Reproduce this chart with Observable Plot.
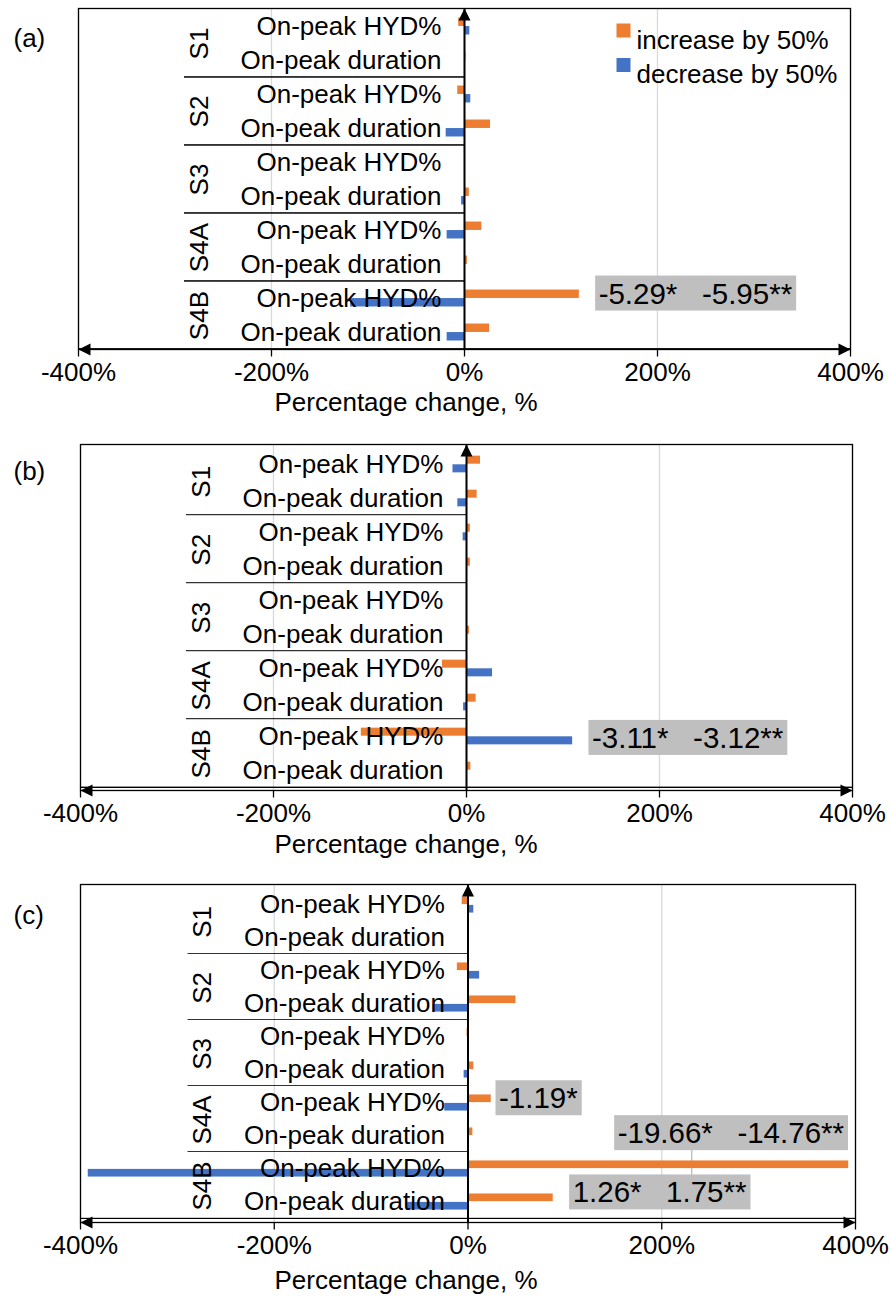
<!DOCTYPE html>
<html><head><meta charset="utf-8">
<script src="https://cdn.jsdelivr.net/npm/d3@7"></script>
<script src="https://cdn.jsdelivr.net/npm/@observablehq/plot@0.6"></script>
<style>
body{margin:0;background:#fff}
#chart{position:relative;width:891px;height:1303px;background:#fff}
#chart svg{position:absolute;left:0}
</style>
</head><body><div id="chart"></div>
<script>
// ---------- data ----------
const scenarios = ["S1", "S2", "S3", "S4A", "S4B"];
const metrics = ["On-peak HYD%", "On-peak duration"];
const seriesNames = ["increase by 50%", "decrease by 50%"];
const seriesColors = ["#ED7D31", "#4472C4"];
const tickValues = [-400, -200, 0, 200, 400];
const panelLabels = ["(a)", "(b)", "(c)"];
const axisTitle = "Percentage change, %";
// values (%), row order: S1 HYD, S1 dur, S2 HYD, S2 dur, S3 HYD, S3 dur, S4A HYD, S4A dur, S4B HYD, S4B dur
const increaseA = [-6, 1.5, -7, 27, 0, 5, 18, 3, 119, 26];
const decreaseA = [5.5, 0.5, 6.5, -19, 0, -3, -18, 1, -118, -18];
const increaseB = [14.5, 11, 4, 4, 0, 3, -25, 10, -109, 4.5];
const decreaseB = [-14, -9, -3.5, 0, 0, 0, 27, -3, 110, 0];
const increaseC = [-6, 1.5, -11, 49.5, -1, 6, 24, 5, 393, 88];
const decreaseC = [6, 0, 12, -36, 0, -4, -24, 1, -392, -63];
const sp = "\u00a0\u00a0\u00a0";
const notesA = [{scenario: "S4B", metric: "On-peak HYD%", label: "-5.29*" + sp + "-5.95**", x: 139}];
const notesB = [{scenario: "S4B", metric: "On-peak HYD%", label: "-3.11*" + sp + "-3.12**", x: 130}];
const notesC = [
  {scenario: "S4A", metric: "On-peak HYD%", label: "-1.19*", x: 32},
  {scenario: "S4A", metric: "On-peak duration", label: "-19.66*" + sp + "-14.76**", x: 154.5},
  {scenario: "S4B", metric: "On-peak duration", label: "1.26*" + sp + "1.75**", x: 108}
];
const leadersC = [{x: 231, from: "S4A|On-peak duration", to: "S4B|On-peak HYD%"}];

// ---------- layout ----------
const layouts = [
  {top: 0, height: 440, ml: 78, mr: 41, mt: 8, mb: 91, labelY: 28, titleDy: 61, noteDy: [-4.4]},
  {top: 436, height: 440, ml: 80, mr: 39, mt: 8, mb: 86, labelY: 25, titleDy: 62, noteDy: [2]},
  {top: 876, height: 427, ml: 80, mr: 36, mt: 8, mb: 81, labelY: 29, titleDy: 66, noteDy: [-4.2, -2.3, -9]}
];
const panels = [
  {inc: increaseA, dec: decreaseA, notes: notesA, leaders: [], legend: true},
  {inc: increaseB, dec: decreaseB, notes: notesB, leaders: [], legend: false},
  {inc: increaseC, dec: decreaseC, notes: notesC, leaders: leadersC, legend: false}
];

const rows = scenarios.flatMap(s => metrics.map(m => ({key: s + "|" + m, scenario: s, metric: m})));
const keys = rows.map(r => r.key);
const groupRows = rows.filter(r => r.metric === metrics[0]);

// custom symbols
const triUp = {draw(c) { c.moveTo(0, 0); c.lineTo(6, 12); c.lineTo(-6, 12); c.closePath(); }};
const triLeft = {draw(c) { c.moveTo(0, 0); c.lineTo(12, -6); c.lineTo(12, 6); c.closePath(); }};
const triRight = {draw(c) { c.moveTo(0, 0); c.lineTo(-12, -6); c.lineTo(-12, 6); c.closePath(); }};
const tickSym = {draw(c) { c.moveTo(0, 0); c.lineTo(0, 7); }};
const square = {draw(c) { c.rect(-7, -7, 14, 14); }};

const FONT = "'Liberation Sans', Arial, sans-serif";
const container = document.getElementById("chart");

panels.forEach((p, pi) => {
  const L = layouts[pi];
  const bw = (L.height - L.mt - L.mb) / keys.length;
  const pxPerUnit = (891 - L.ml - L.mr) / 800;
  const divLeft = -280 / pxPerUnit;
  const incData = rows.map((r, i) => ({row: r.key, value: p.inc[i]}));
  const decData = rows.map((r, i) => ({row: r.key, value: p.dec[i]}));

  const marks = [
    Plot.ruleX(tickValues, {x: d => d, stroke: "#d9d9d9", strokeWidth: 1.3}),
    Plot.frame({stroke: "black", strokeWidth: 1.3}),
    ...p.leaders.map(l => Plot.ruleX([l], {x: "x", y1: "from", y2: "to", stroke: "#a6a6a6", strokeWidth: 1})),
    Plot.barX(incData, {x1: () => 0, x2: "value", y: "row", fill: seriesColors[0], insetTop: bw / 4, insetBottom: bw / 2}),
    Plot.barX(decData, {x1: () => 0, x2: "value", y: "row", fill: seriesColors[1], insetTop: bw / 2, insetBottom: bw / 4}),
    // group divider lines in the label area
    Plot.barX(groupRows.slice(1), {x1: () => divLeft, x2: () => 0, y: "key", fill: "black", insetTop: -0.8, insetBottom: bw - 0.8}),
    // vertical axis at zero
    Plot.ruleX([0], {x: d => d, stroke: "black", strokeWidth: 2}),
    // horizontal axis line at bottom
    Plot.barX([keys[keys.length - 1]], {x1: () => -400, x2: () => 400, y: d => d, fill: "black", insetTop: bw - 1, insetBottom: -1}),
    Plot.dot([0], {x: d => d, frameAnchor: "top", symbol: triUp, fill: "black", stroke: "none"}),
    Plot.dot([-400], {x: d => d, frameAnchor: "bottom", symbol: triLeft, fill: "black", stroke: "none"}),
    Plot.dot([400], {x: d => d, frameAnchor: "bottom", symbol: triRight, fill: "black", stroke: "none"}),
    // ticks and tick labels
    Plot.dot(tickValues, {x: d => d, frameAnchor: "bottom", symbol: tickSym, fill: "none", stroke: "black", strokeWidth: 1.3}),
    Plot.text(tickValues, {x: d => d, frameAnchor: "bottom", dy: 31, text: d => d + "%", fill: "black"}),
    // category labels
    Plot.text(rows, {x: () => 0, y: "key", text: "metric", textAnchor: "end", dx: -23, fill: "black"}),
    Plot.text(groupRows, {x: () => 0, y: "key", text: "scenario", rotate: -90, dx: -265, dy: bw / 2, textAnchor: "middle", fill: "black"}),
    // axis title
    Plot.text([axisTitle], {frameAnchor: "bottom-left", textAnchor: "start", dx: 274 - L.ml, dy: L.titleDy, text: d => d, fill: "black"}),
    // panel label
    Plot.text([panelLabels[pi]], {frameAnchor: "top-left", textAnchor: "start", dx: 13 - L.ml, dy: L.labelY - L.mt, text: d => d, fill: "black"}),
    // annotations
    ...p.notes.map((n, i) => Plot.text([n], {x: "x", y: d => d.scenario + "|" + d.metric, text: "label", textAnchor: "start", fontSize: 29.5, dy: L.noteDy[i], fill: "black"}))
  ];
  if (p.legend) {
    seriesNames.forEach((s, i) => {
      marks.push(Plot.dot([s], {frameAnchor: "top-right", dx: -227, dy: 22 + i * 34.5, symbol: square, fill: seriesColors[i], stroke: "none"}));
      marks.push(Plot.text([s], {frameAnchor: "top-right", dx: -214, dy: 22 + i * 34.5, textAnchor: "start", text: d => d, fill: "black"}));
    });
  }

  const svg = Plot.plot({
    width: 891, height: L.height,
    marginLeft: L.ml, marginRight: L.mr, marginTop: L.mt, marginBottom: L.mb,
    x: {domain: [-400, 400], axis: null},
    y: {type: "band", domain: keys, padding: 0, axis: null},
    style: {fontFamily: FONT, fontSize: "26px", background: "transparent", overflow: "visible", color: "black"},
    marks
  });
  svg.style.top = L.top + "px";
  container.appendChild(svg);

  // grey boxes behind annotation texts
  const noteLabels = new Set(p.notes.map(n => n.label));
  Array.from(svg.querySelectorAll("text")).filter(t => noteLabels.has(t.textContent)).forEach(t => {
    const b = t.getBBox();
    const r = document.createElementNS("http://www.w3.org/2000/svg", "rect");
    r.setAttribute("x", b.x - 3.5);
    r.setAttribute("y", b.y - 1);
    r.setAttribute("width", b.width + 7);
    r.setAttribute("height", b.height + 2);
    r.setAttribute("fill", "#bfbfbf");
    const tr = t.getAttribute("transform");
    if (tr) r.setAttribute("transform", tr);
    t.parentNode.insertBefore(r, t);
  });
});
</script>
</body></html>
